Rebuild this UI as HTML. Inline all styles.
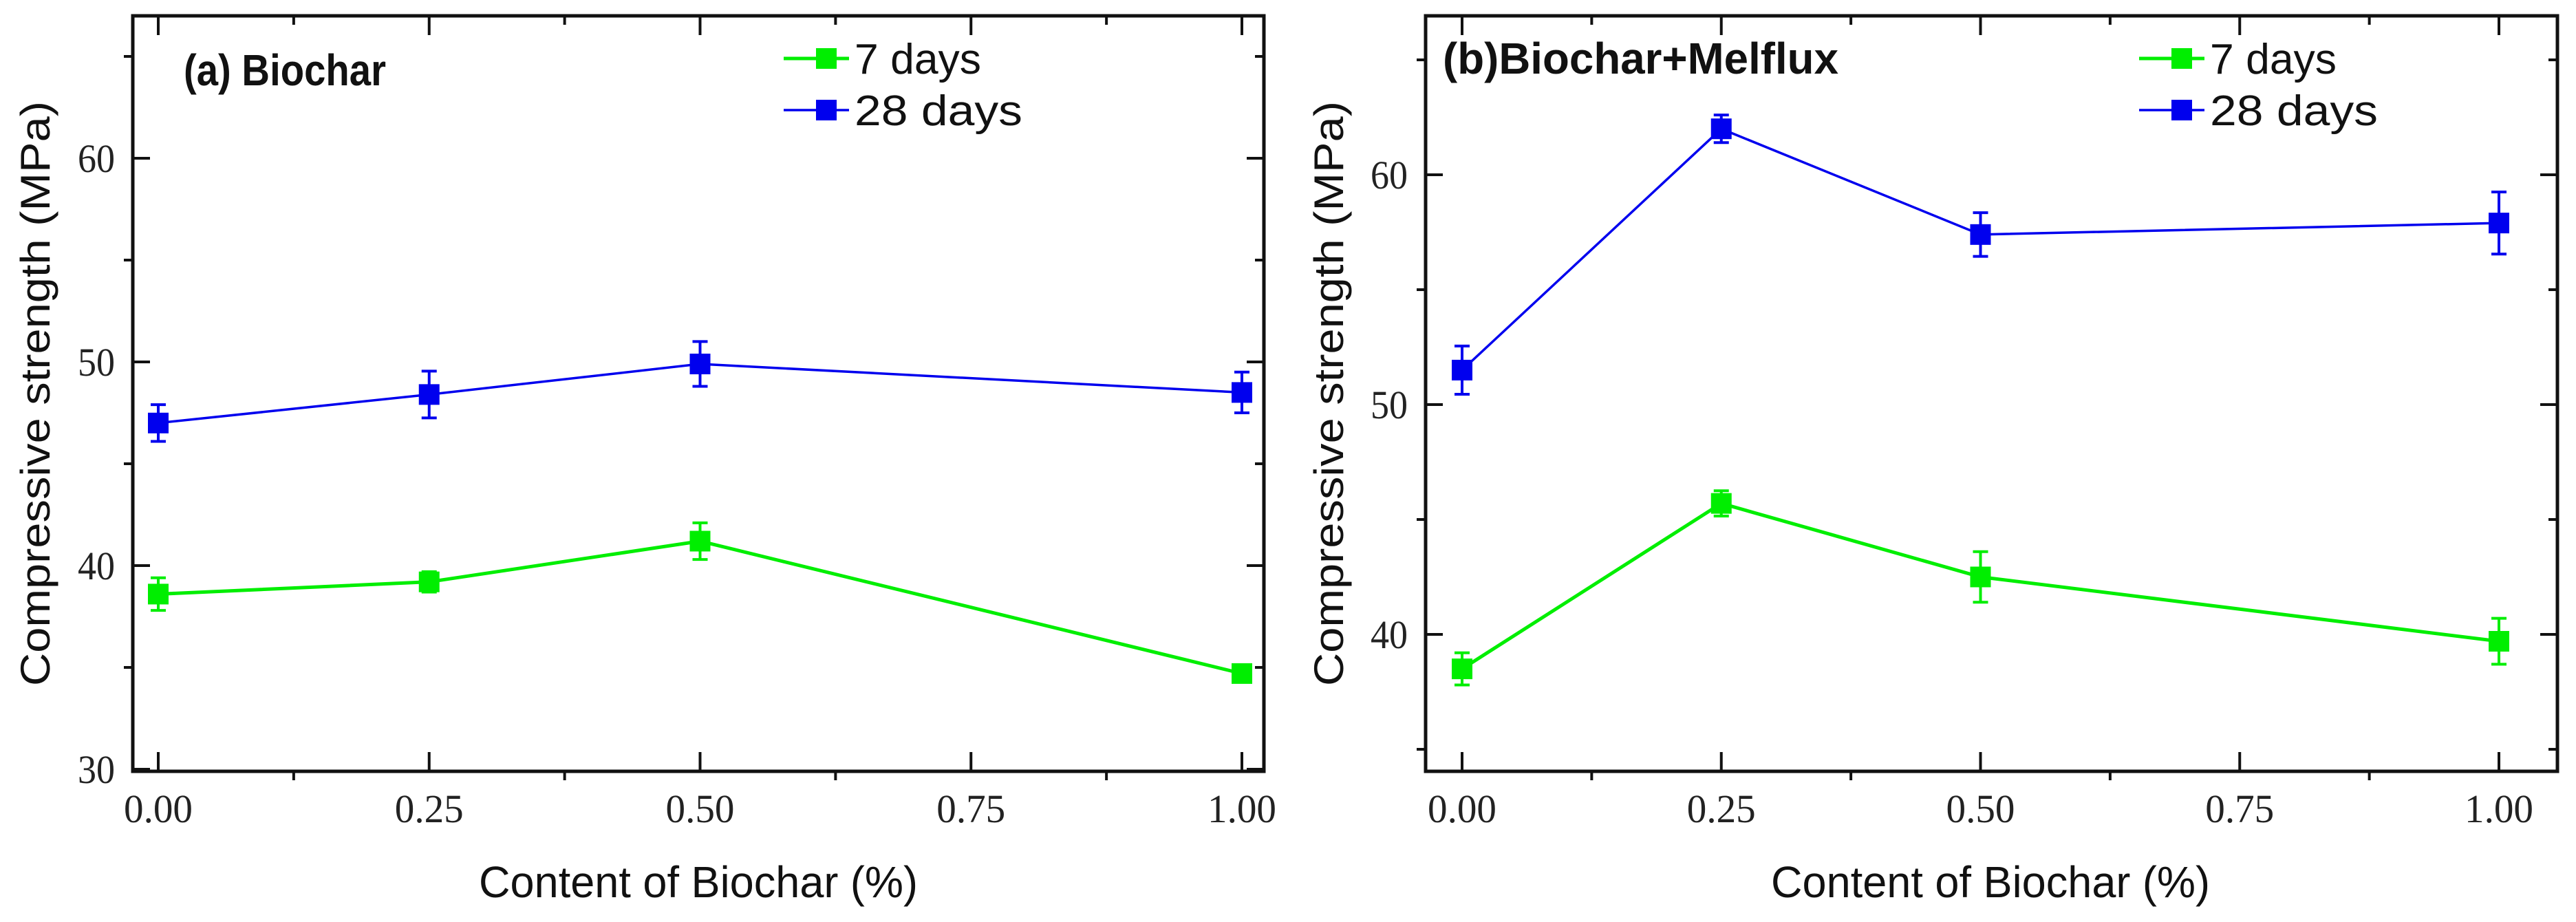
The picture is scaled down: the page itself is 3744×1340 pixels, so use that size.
<!DOCTYPE html>
<html><head><meta charset="utf-8"><style>
html,body{margin:0;padding:0;background:#fff;}
svg{display:block;}
</style></head><body>
<svg id="chart" width="3744" height="1340" viewBox="0 0 3744 1340" xmlns="http://www.w3.org/2000/svg"></svg>
<script>
const categories = [0.00, 0.25, 0.50, 1.00];
const xTickLabels = ["0.00", "0.25", "0.50", "0.75", "1.00"];
const xTickValues = [0, 0.25, 0.5, 0.75, 1.0];
const aSeries7 = [38.6, 39.2, 41.2, 34.7];
const aErr7 = [0.8, 0.5, 0.9, 0.2];
const aSeries28 = [47.0, 48.4, 49.9, 48.5];
const aErr28 = [0.9, 1.15, 1.1, 1.0];
const bSeries7 = [38.5, 45.7, 42.5, 39.7];
const bErr7 = [0.7, 0.55, 1.1, 1.0];
const bSeries28 = [51.5, 62.0, 57.4, 57.9];
const bErr28 = [1.05, 0.6, 0.95, 1.35];
const aYTicks = [30, 40, 50, 60];
const bYTicks = [40, 50, 60];

const NS = "http://www.w3.org/2000/svg";
const svg = document.getElementById("chart");
function mk(tag, attrs, parent) {
  const e = document.createElementNS(NS, tag);
  for (const k in attrs) e.setAttribute(k, attrs[k]);
  (parent || svg).appendChild(e);
  return e;
}
const GREEN = "#00ee00", BLUE = "#0000ee";

function panel(cfg) {
  const g = mk("g", {});
  
  
  const xs = v => cfg.x0 + v * (cfg.x1 - cfg.x0);
  const ys = v => cfg.yBase - (v - cfg.vBase) * cfg.ppu;
  const L = cfg.left, R = cfg.right, T = 23, B = 1121;
  const fr = mk("rect", {x: L, y: T, width: R - L, height: B - T, fill: "none", stroke: "#111", "stroke-width": 5}, g);
  
  
  for (let i = 0; i <= 8; i++) {
    const v = i * 0.125, x = xs(v), major = i % 2 === 0;
    if (major) {
      mk("line", {x1: x, y1: B, x2: x, y2: B - 28, stroke: "#111", "stroke-width": 4}, g);
      mk("line", {x1: x, y1: T, x2: x, y2: T + 28, stroke: "#111", "stroke-width": 4}, g);
    } else {
      mk("line", {x1: x, y1: B, x2: x, y2: B + 13, stroke: "#111", "stroke-width": 4}, g);
      mk("line", {x1: x, y1: T, x2: x, y2: T + 13, stroke: "#111", "stroke-width": 4}, g);
    }
  }
  xTickValues.forEach((v, i) => {
    const t = mk("text", {x: xs(v), y: 1195, "font-family": "Liberation Serif, serif", "font-size": 58, "text-anchor": "middle", textLength: 100, lengthAdjust: "spacingAndGlyphs", fill: "#222"}, g);
    t.textContent = xTickLabels[i];
    
    
  });
  for (let v = Math.ceil(cfg.vMin / 5) * 5; v <= cfg.vMax; v += 5) {
    const y = ys(v);
    if (y > B + 1 || y < T - 1) continue;
    const major = v % 10 === 0;
    if (major) {
      mk("line", {x1: L, y1: y, x2: L + 25, y2: y, stroke: "#111", "stroke-width": 4}, g);
      mk("line", {x1: R, y1: y, x2: R - 25, y2: y, stroke: "#111", "stroke-width": 4}, g);
    } else {
      mk("line", {x1: L, y1: y, x2: L - 13, y2: y, stroke: "#111", "stroke-width": 4}, g);
      mk("line", {x1: R, y1: y, x2: R - 13, y2: y, stroke: "#111", "stroke-width": 4}, g);
    }
  }
  cfg.yTicks.forEach(v => {
    const t = mk("text", {x: L - 26, y: ys(v) + 20, "font-family": "Liberation Serif, serif", "font-size": 58, "text-anchor": "end", textLength: 54, lengthAdjust: "spacingAndGlyphs", fill: "#222"}, g);
    t.textContent = String(v);
    
    
  });
  const yt = mk("text", {x: 0, y: 0, transform: `translate(${cfg.yTitleX},572) rotate(-90)`, "font-family": "Liberation Sans, sans-serif", "font-size": 60, "text-anchor": "middle", textLength: 850, lengthAdjust: "spacingAndGlyphs", fill: "#111"}, g);
  yt.textContent = "Compressive strength (MPa)";
  
  
  const xt = mk("text", {x: cfg.xTitleX, y: 1304, "font-family": "Liberation Sans, sans-serif", "font-size": 64, "text-anchor": "middle", textLength: 638, lengthAdjust: "spacingAndGlyphs", fill: "#111"}, g);
  xt.textContent = "Content of Biochar (%)";
  
  
  const pl = mk("text", {x: cfg.labelX, y: cfg.labelY, "font-family": "Liberation Sans, sans-serif", "font-size": 64, "font-weight": "bold", textLength: cfg.labelW, lengthAdjust: "spacingAndGlyphs", fill: "#111"}, g);
  pl.textContent = cfg.label;
  
  
  const series = [
    {vals: cfg.s28, err: cfg.e28, color: BLUE, w: 3.5, name: "28 days"},
    {vals: cfg.s7, err: cfg.e7, color: GREEN, w: 5, name: "7 days"}
  ];
  series.forEach(s => {
    const pts = categories.map((c, i) => xs(c) + "," + ys(s.vals[i])).join(" ");
    const ln = mk("polyline", {points: pts, fill: "none", stroke: s.color, "stroke-width": s.w}, g);
    
    
    categories.forEach((c, i) => {
      const x = xs(c), yt2 = ys(s.vals[i] + s.err[i]), yb = ys(s.vals[i] - s.err[i]);
      const eb = mk("path", {d: `M${x},${yt2}V${yb}M${x-11},${yt2}H${x+11}M${x-11},${yb}H${x+11}`, stroke: s.color, "stroke-width": 4, fill: "none"}, g);
      
      
      const m = mk("rect", {x: x - 15, y: ys(s.vals[i]) - 15, width: 30, height: 30, fill: s.color}, g);
      
      
    });
  });
  [{color: GREEN, y: 85, text: "7 days", w: 5, tl: 184}, {color: BLUE, y: 160, text: "28 days", w: 3.5, tl: 244}].forEach(le => {
    const lg = mk("g", {}, g);
    
    
    mk("line", {x1: cfg.legX, y1: le.y, x2: cfg.legX + 95, y2: le.y, stroke: le.color, "stroke-width": le.w}, lg);
    mk("rect", {x: cfg.legX + 47, y: le.y - 15, width: 30, height: 30, fill: le.color}, lg);
    const t = mk("text", {x: cfg.legX + 103, y: le.y + 22, "font-family": "Liberation Sans, sans-serif", "font-size": 62, textLength: le.tl, lengthAdjust: "spacingAndGlyphs", fill: "#111"}, lg);
    t.textContent = le.text;
  });
}

panel({name: "panel-a-biochar", left: 193, right: 1837, x0: 230, x1: 1805, yBase: 1118, vBase: 30, ppu: 29.6, vMin: 30, vMax: 67,
  yTicks: aYTicks, s7: aSeries7, e7: aErr7, s28: aSeries28, e28: aErr28,
  yTitleX: 72, xTitleX: 1015, label: "(a) Biochar", labelX: 267, labelY: 124, labelW: 294, legX: 1139});
panel({name: "panel-b-biochar-melflux", left: 2072, right: 3717, x0: 2125, x1: 3632, yBase: 254, vBase: 60, ppu: 33.4, vMin: 34, vMax: 67,
  yTicks: bYTicks, s7: bSeries7, e7: bErr7, s28: bSeries28, e28: bErr28,
  yTitleX: 1952, xTitleX: 2893, label: "(b)Biochar+Melflux", labelX: 2097, labelY: 107, labelW: 575, legX: 3109});
</script>
</body></html>
